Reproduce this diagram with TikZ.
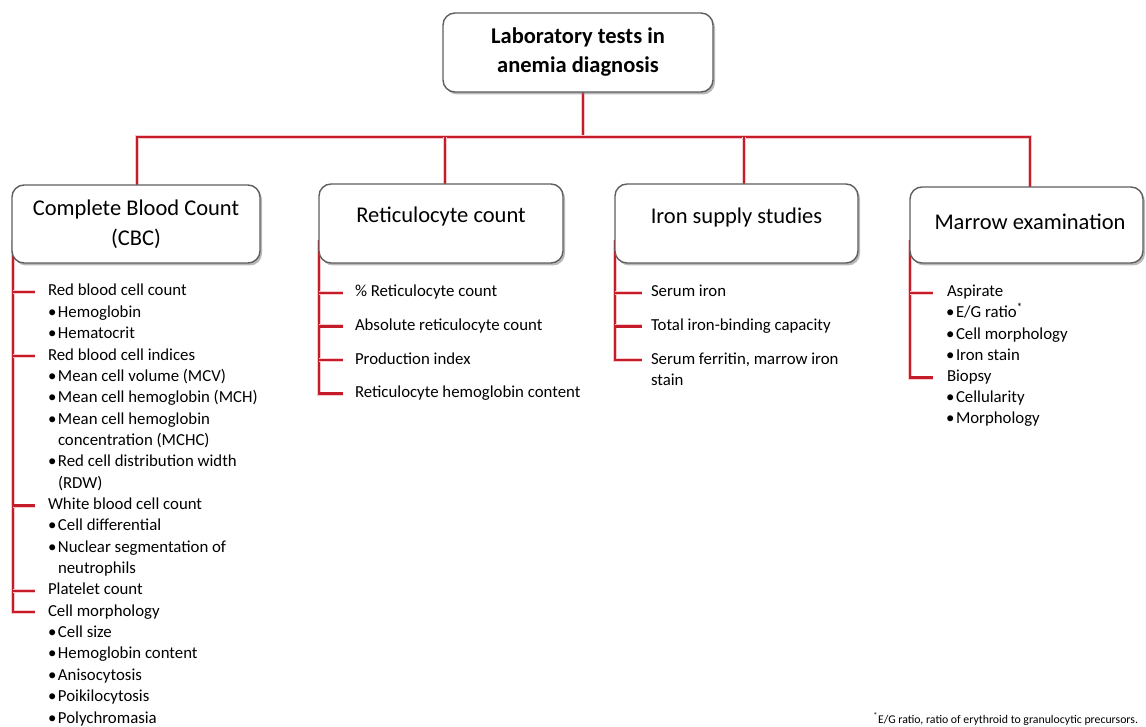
\documentclass[tikz,border=0pt]{standalone}
\usepackage{fontspec}
\setmainfont{Carlito}
\usetikzlibrary{shadows}
\definecolor{lnred}{RGB}{196,28,40}
\definecolor{glow}{RGB}{246,200,204}
\definecolor{boxgray}{RGB}{95,95,95}
\newcommand{\bu}{\llap{\textbullet\hspace{1.5pt}}}
\tikzset{
  every node/.style={inner sep=0pt, outer sep=0pt},
  hbox/.style={draw=boxgray, line width=1.4pt, rounded corners=12pt, fill=white,
    drop shadow={shadow xshift=2pt, shadow yshift=-2.5pt, fill=black!50, opacity=0.55}},
  redline/.style={draw=lnred, line width=2.2pt, preaction={draw=glow, line width=4pt}},
  hdr/.style={font=\fontsize{22.5}{30}\selectfont, align=center},
  item/.style={anchor=west, font=\fontsize{16.8}{20}\selectfont, text height=12pt, text depth=4pt}
}
\begin{document}
\begin{tikzpicture}[x=1pt,y=-1pt]
\useasboundingbox (0,0) rectangle (1146,727);

% ---- connector coordinates
\coordinate (bus) at (583,137);
\coordinate (cv) at (13,240);
\coordinate (rv) at (319,240);
\coordinate (iv) at (615,240);
\coordinate (mv) at (910,240);

% ---- CBC items
\node[item] (c1) at (48,292) {Red blood cell count};
\node[item] (c2) at (58,313.35) {\bu Hemoglobin};
\node[item] (c3) at (58,334.7) {\bu Hematocrit};
\node[item] (c4) at (48,356.05) {Red blood cell indices};
\node[item] (c5) at (58,377.4) {\bu Mean cell volume (MCV)};
\node[item] (c6) at (58,398.75) {\bu Mean cell hemoglobin (MCH)};
\node[item] (c7) at (58,420.1) {\bu Mean cell hemoglobin};
\node[item] (c8) at (58,441.45) {concentration (MCHC)};
\node[item] (c9) at (58,462.8) {\bu Red cell distribution width};
\node[item] (c10) at (58,484.15) {(RDW)};
\node[item] (c11) at (48,505.5) {White blood cell count};
\node[item] (c12) at (58,526.85) {\bu Cell differential};
\node[item] (c13) at (58,548.2) {\bu Nuclear segmentation of};
\node[item] (c14) at (58,569.55) {neutrophils};
\node[item] (c15) at (48,590.9) {Platelet count};
\node[item] (c16) at (48,612.25) {Cell morphology};
\node[item] (c17) at (58,633.6) {\bu Cell size};
\node[item] (c18) at (58,654.95) {\bu Hemoglobin content};
\node[item] (c19) at (58,676.3) {\bu Anisocytosis};
\node[item] (c20) at (58,697.65) {\bu Poikilocytosis};
\node[item] (c21) at (58,719) {\bu Polychromasia};

% ---- Reticulocyte items
\node[item] (r1) at (355,293) {\% Reticulocyte count};
\node[item] (r2) at (355,326.5) {Absolute reticulocyte count};
\node[item] (r3) at (355,360) {Production index};
\node[item] (r4) at (355,393.5) {Reticulocyte hemoglobin content};

% ---- Iron items
\node[item] (i1) at (651,293) {Serum iron};
\node[item] (i2) at (651,326.5) {Total iron-binding capacity};
\node[item] (i3) at (651,360) {Serum ferritin, marrow iron};
\node[item] (i4) at (651,381.3) {stain};

% ---- Marrow items
\node[item] (m1) at (947,293) {Aspirate};
\node[item] (m2) at (956,314) {\bu E/G ratio\textsuperscript{*}};
\node[item] (m3) at (956,335) {\bu Cell morphology};
\node[item] (m4) at (956,356) {\bu Iron stain};
\node[item] (m5) at (947,377.5) {Biopsy};
\node[item] (m6) at (956,398.5) {\bu Cellularity};
\node[item] (m7) at (956,419.5) {\bu Morphology};

% ---- red connectors (drawn before boxes)
\draw[redline] (583,90) -- (bus);
\draw[redline] (137,190) |- (bus) -| (1030,190);
\draw[redline] (445,137) -- (445,190);
\draw[redline] (744,137) -- (744,190);

\draw[redline] (cv) |- ([xshift=-13pt]c16.west);
\foreach \n in {c1,c4,c11,c15} \draw[redline] (cv |- \n.west) -- ([xshift=-13pt]\n.west);
\draw[redline] (rv) |- ([xshift=-12pt]r4.west);
\foreach \n in {r1,r2,r3} \draw[redline] (rv |- \n.west) -- ([xshift=-12pt]\n.west);
\draw[redline] (iv) |- ([xshift=-9pt]i3.west);
\foreach \n in {i1,i2} \draw[redline] (iv |- \n.west) -- ([xshift=-9pt]\n.west);
\draw[redline] (mv) |- ([xshift=-14pt]m5.west);
\draw[redline] (mv |- m1.west) -- ([xshift=-14pt]m1.west);

% ---- boxes
\node[hbox, minimum width=270pt, minimum height=79pt] (title) at (578,52.5) {};
\node[hdr, font=\fontsize{22.5}{29}\selectfont\bfseries] (ttext) at (title) {Laboratory tests in\\anemia diagnosis};

\node[hbox, minimum width=248pt, minimum height=78pt] (cbc) at (136,224) {};
\node[hdr] (cbct) at (cbc) {Complete Blood Count\\(CBC)};

\node[hbox, minimum width=244pt, minimum height=79pt] (ret) at (441,223.5) {};
\node[hdr] (rett) at (441,217) {Reticulocyte count};

\node[hbox, minimum width=243pt, minimum height=79pt] (iron) at (736.5,223.5) {};
\node[hdr] (iront) at (736.5,218) {Iron supply studies};

\node[hbox, minimum width=233pt, minimum height=76pt] (marrow) at (1026.5,225) {};
\node[hdr] (marrowt) at (1030,222) {Marrow examination};

% ---- footnote
\node[anchor=east, font=\fontsize{11.8}{14}\selectfont] (fn) at (1138,719) {\textsuperscript{*}E/G ratio, ratio of erythroid to granulocytic precursors.};
\end{tikzpicture}
\end{document}
